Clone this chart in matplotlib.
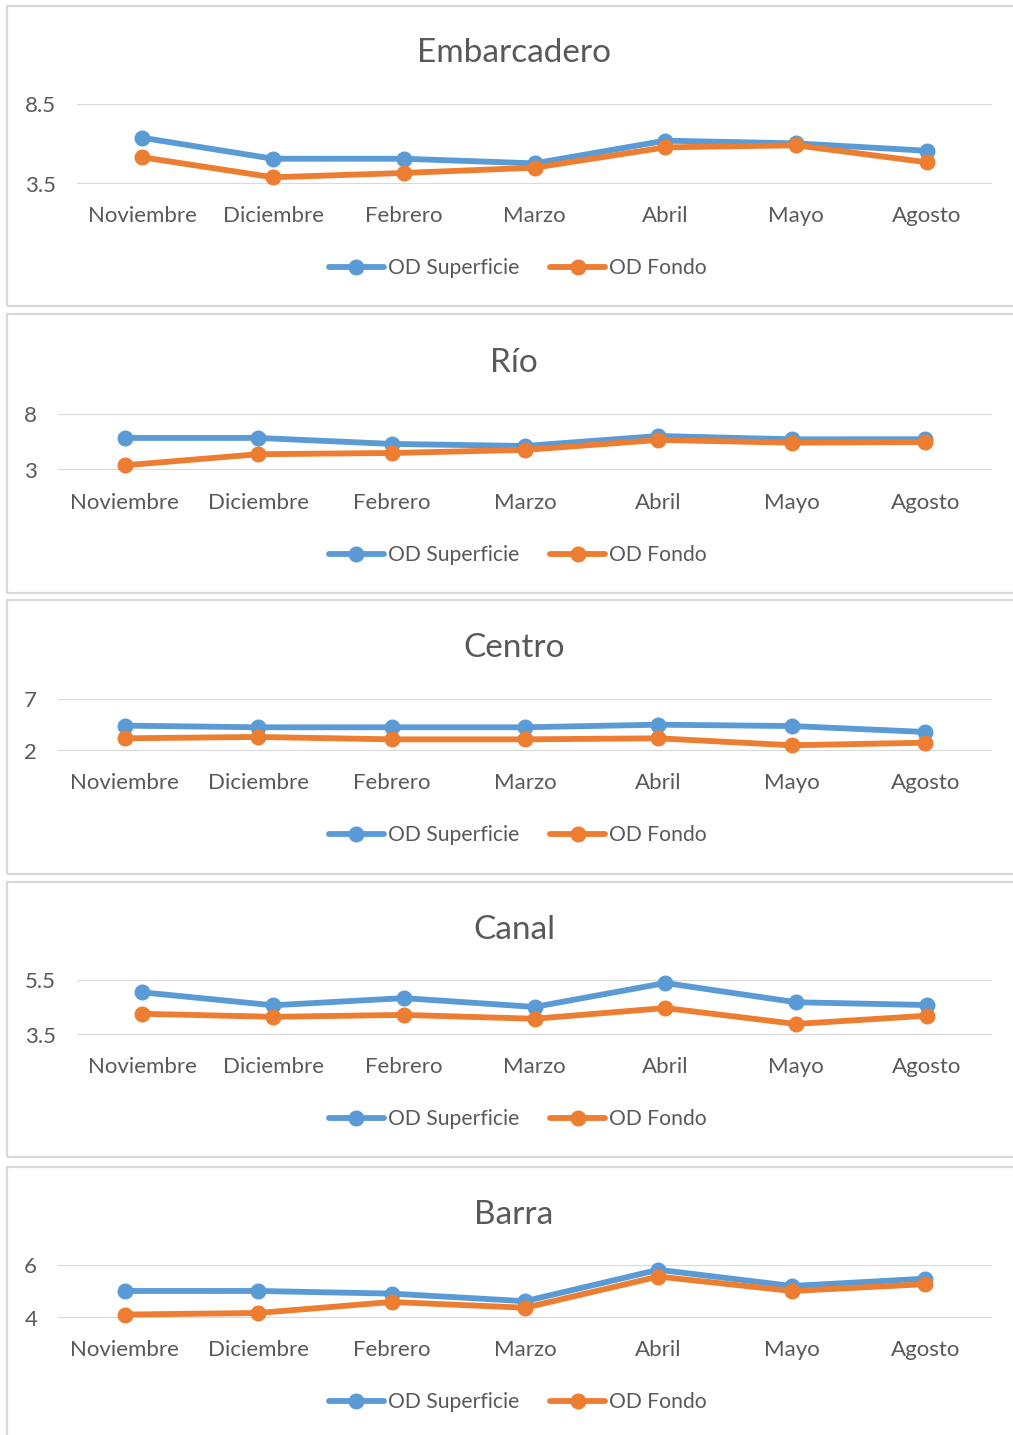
import matplotlib.pyplot as plt
from matplotlib.patches import Rectangle

plt.rcParams['font.family'] = ['Lato', 'DejaVu Sans']

meses = ['Noviembre', 'Diciembre', 'Febrero', 'Marzo', 'Abril', 'Mayo', 'Agosto']
estaciones = ['Embarcadero', 'Río', 'Centro', 'Canal', 'Barra']

od_superficie = {
    'Embarcadero': [6.37, 5.06, 5.06, 4.77, 6.19, 6.02, 5.56],
    'Río':         [5.86, 5.86, 5.33, 5.15, 6.03, 5.74, 5.74],
    'Centro':      [4.44, 4.28, 4.28, 4.28, 4.53, 4.40, 3.83],
    'Canal':       [5.04, 4.57, 4.83, 4.51, 5.38, 4.68, 4.58],
    'Barra':       [5.02, 5.02, 4.92, 4.63, 5.83, 5.21, 5.49],
}
od_fondo = {
    'Embarcadero': [5.15, 3.90, 4.17, 4.50, 5.77, 5.90, 4.84],
    'Río':         [3.44, 4.42, 4.53, 4.80, 5.68, 5.44, 5.50],
    'Centro':      [3.22, 3.35, 3.12, 3.12, 3.22, 2.55, 2.80],
    'Canal':       [4.26, 4.15, 4.22, 4.08, 4.47, 3.89, 4.19],
    'Barra':       [4.12, 4.18, 4.60, 4.38, 5.57, 5.02, 5.28],
}
# limites del eje y (min, max) de cada grafico
ejes_y = {
    'Embarcadero': (3.5, 8.5),
    'Río':         (3, 8),
    'Centro':      (2, 7),
    'Canal':       (3.5, 5.5),
    'Barra':       (4, 6),
}

W, H = 1013, 1435
AZUL = '#5B9BD5'
NARANJA = '#ED7D31'
GRIS = '#595959'
LINEA = '#D9D9D9'

# posiciones en pixeles
marcos = [(6, 306), (314, 593), (600, 874), (882, 1157), (1167, 1445)]
grids = [(103.7, 183.7), (413.7, 470.3), (699, 751), (979.7, 1034.7), (1265.3, 1317.7)]
titulos_y = [53, 363, 648, 930, 1215]
leyendas_y = [268, 555, 835, 1119, 1402]
izq = [77, 58, 58, 77, 58]
der = 992

fig = plt.figure(figsize=(W / 100, H / 100), dpi=100)

def fx(px):
    return px / W

def fy(py):
    return 1 - py / H

for i, est in enumerate(estaciones):
    top, bot = marcos[i]
    fig.patches.append(Rectangle((fx(6.5), fy(bot)), fx(1100), (bot - top) / H,
                                 transform=fig.transFigure, fill=False,
                                 edgecolor=LINEA, lw=1.6))
    g0, g1 = grids[i]
    ax = fig.add_axes([fx(izq[i]), fy(g1), fx(der - izq[i]), (g1 - g0) / H])
    x = range(len(meses))
    ax.plot(x, od_superficie[est], color=AZUL, lw=4.2, marker='o', ms=10.5,
            label='OD Superficie', clip_on=False, solid_capstyle='round', zorder=3)
    ax.plot(x, od_fondo[est], color=NARANJA, lw=4.2, marker='o', ms=10.5,
            label='OD Fondo', clip_on=False, solid_capstyle='round', zorder=4)
    lo, hi = ejes_y[est]
    ax.set_ylim(lo, hi)
    ax.set_yticks([lo, hi])
    ax.set_yticklabels([f'{v:g}' for v in (lo, hi)])
    ax.set_xlim(-0.5, len(meses) - 0.5)
    ax.set_xticks(list(x))
    ax.set_xticklabels(meses)
    ax.tick_params(length=0, labelsize=16, labelcolor=GRIS)
    ax.tick_params(axis='x', pad=16)
    ax.tick_params(axis='y', pad=15)
    ax.grid(axis='y', color=LINEA, lw=1.6)
    ax.set_axisbelow(True)
    for s in ax.spines.values():
        s.set_visible(False)
    ax.patch.set_alpha(0)

    fig.text(fx(514), fy(titulos_y[i]), est, ha='center', va='center',
             fontsize=24, color=GRIS)
    leg = ax.legend(loc='center', bbox_to_anchor=(fx(518), fy(leyendas_y[i])),
                    bbox_transform=fig.transFigure, ncol=2, frameon=False,
                    fontsize=15.2, handlelength=2.6, handletextpad=0.2,
                    columnspacing=1.45, borderpad=0)
    for t in leg.get_texts():
        t.set_color(GRIS)

fig.savefig('out.png', dpi=100, facecolor='white')
